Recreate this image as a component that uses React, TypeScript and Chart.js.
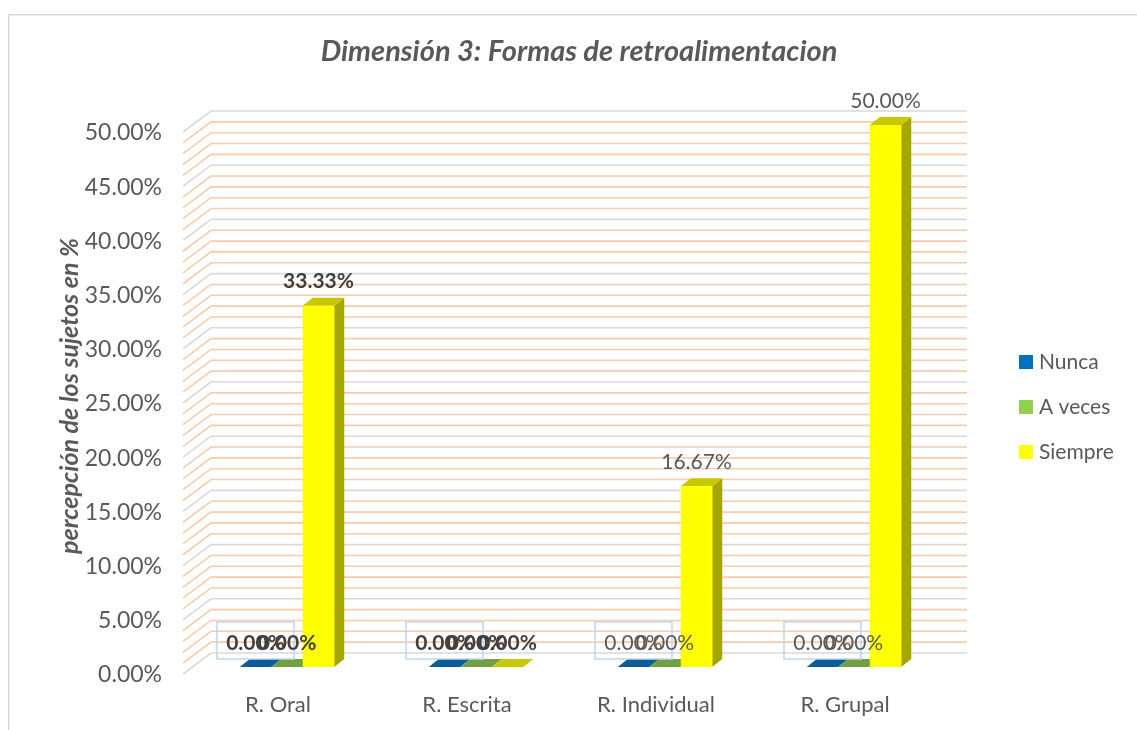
import React, { useEffect, useRef } from 'react';
import { Chart, registerables } from 'chart.js';

Chart.register(...registerables);

// ---- data ----
const categories = ['R. Oral', 'R. Escrita', 'R. Individual', 'R. Grupal'];
const seriesNames = ['Nunca', 'A veces', 'Siempre'];
const nunca = [0, 0, 0, 0];
const aVeces = [0, 0, 0, 0];
const siempre = [33.33, 0, 16.67, 50];
const yMax = 50;
const yStep = 5;
const titleText = 'Dimensión 3: Formas de retroalimentacion';
const yTitleText = 'percepción de los sujetos en %';

// ---- styles ----
const FONT = 'Lato, "Liberation Sans", sans-serif';
const FRONT_COLORS = ['#0070C0', '#92D050', '#FFFF00'];
const SIDE_COLORS = ['#004E87', '#6A9A3A', '#A6A600'];
const TOP_COLORS = ['#0B5D99', '#72A040', '#C8C800'];
const BOLD_LABEL_CATS = [true, true, false, false];
const DEPTH = { dx: 10, dy: -8 };
const BACK = { dx: 18.5, dy: -14 };
const FRONTP = { dx: -9.5, dy: 7 };

const fmt = (v: number) => v.toFixed(2) + '%';

const threeD = {
  id: 'threeD',
  beforeDraw(chart: any) {
    const ctx = chart.ctx;
    ctx.save();
    ctx.strokeStyle = '#D9D9D9';
    ctx.lineWidth = 1.5;
    ctx.beginPath();
    ctx.moveTo(8.75, 730);
    ctx.lineTo(8.75, 14.75);
    ctx.lineTo(1137, 14.75);
    ctx.stroke();
    ctx.restore();
  },
  beforeDatasetsDraw(chart: any) {
    const { ctx, chartArea } = chart;
    const y = chart.scales.y;
    ctx.save();
    ctx.lineWidth = 1.6;
    for (let v = 0; v <= yMax; v += 1) {
      const py = y.getPixelForValue(v);
      ctx.strokeStyle = v % yStep === 0 ? '#D9D9D9' : '#F8CBAD';
      ctx.beginPath();
      ctx.moveTo(chartArea.left + FRONTP.dx, py + FRONTP.dy);
      ctx.lineTo(chartArea.left + BACK.dx, py + BACK.dy);
      ctx.lineTo(chartArea.right + BACK.dx, py + BACK.dy);
      ctx.stroke();
    }
    chart.data.datasets.forEach((_ds: any, i: number) => {
      const meta = chart.getDatasetMeta(i);
      meta.data.forEach((el: any) => {
        const x0 = el.x - el.width / 2;
        const x1 = el.x + el.width / 2;
        const top = el.y;
        const base = el.base;
        // side face
        ctx.fillStyle = SIDE_COLORS[i];
        ctx.beginPath();
        ctx.moveTo(x1, top);
        ctx.lineTo(x1 + DEPTH.dx, top + DEPTH.dy);
        ctx.lineTo(x1 + DEPTH.dx, base + DEPTH.dy);
        ctx.lineTo(x1, base);
        ctx.closePath();
        ctx.fill();
        // top face
        ctx.fillStyle = TOP_COLORS[i];
        ctx.beginPath();
        ctx.moveTo(x0, top);
        ctx.lineTo(x1, top);
        ctx.lineTo(x1 + DEPTH.dx, top + DEPTH.dy);
        ctx.lineTo(x0 + DEPTH.dx, top + DEPTH.dy);
        ctx.closePath();
        ctx.fill();
      });
    });
    ctx.restore();
  },
  afterDatasetsDraw(chart: any) {
    const ctx = chart.ctx;
    ctx.save();
    // label boxes (first series, zero values)
    const meta0 = chart.getDatasetMeta(0);
    meta0.data.forEach((el: any) => {
      ctx.strokeStyle = '#BDD7EE';
      ctx.lineWidth = 1.5;
      ctx.strokeRect(el.x - 38.5, el.y - 45, 77, 37);
    });
    chart.data.datasets.forEach((ds: any, i: number) => {
      const meta = chart.getDatasetMeta(i);
      meta.data.forEach((el: any, j: number) => {
        const bold = BOLD_LABEL_CATS[j];
        ctx.font = (bold ? 'bold ' : '') + '21px ' + FONT;
        ctx.fillStyle = bold ? '#404040' : '#595959';
        ctx.textAlign = 'center';
        ctx.textBaseline = 'middle';
        ctx.fillText(fmt(ds.data[j]), el.x, el.y - 24);
      });
    });
    ctx.restore();
  },
  afterDraw(chart: any) {
    const ctx = chart.ctx;
    ctx.save();
    ctx.fillStyle = '#595959';
    ctx.textAlign = 'center';
    ctx.textBaseline = 'middle';
    ctx.font = 'italic bold 29px ' + FONT;
    ctx.fillText(titleText, 579, 52);
    // legend
    ctx.textAlign = 'left';
    ctx.font = '21px ' + FONT;
    const ys = [362, 407, 452];
    seriesNames.forEach((name, i) => {
      ctx.fillStyle = FRONT_COLORS[i];
      ctx.fillRect(1019, ys[i] - 7, 14, 14);
      ctx.fillStyle = '#595959';
      ctx.fillText(name, 1039, ys[i]);
    });
    ctx.restore();
  },
};

export default function App() {
  const ref = useRef<HTMLCanvasElement>(null);
  useEffect(() => {
    if (!ref.current) return;
    const series = [nunca, aVeces, siempre];
    const chart = new Chart(ref.current, {
      type: 'bar',
      data: {
        labels: categories,
        datasets: series.map((d, i) => ({
          label: seriesNames[i],
          data: d,
          backgroundColor: FRONT_COLORS[i],
          borderWidth: 0,
          barPercentage: 1,
          categoryPercentage: 0.5,
        })),
      },
      options: {
        responsive: false,
        animation: false,
        layout: { padding: { left: 40, right: 188.5, top: 125, bottom: 0 } },
        plugins: {
          legend: { display: false },
          title: { display: false },
          tooltip: { enabled: false },
        },
        scales: {
          x: {
            grid: { display: false, drawTicks: false },
            border: { display: false },
            ticks: {
              color: '#595959',
              font: { family: FONT, size: 22 },
              padding: 25,
              labelOffset: -9,
            },
            afterFit: (s: any) => {
              s.height = 63;
            },
          },
          y: {
            min: 0,
            max: yMax,
            grid: { display: false, drawTicks: false },
            border: { display: false },
            ticks: {
              stepSize: yStep,
              color: '#595959',
              font: { family: FONT, size: 23 },
              padding: 30.5,
              labelOffset: 8,
              callback: (v: any) => fmt(Number(v)),
            },
            title: {
              display: true,
              text: yTitleText,
              color: '#595959',
              font: { family: FONT, size: 25, weight: 'bold', style: 'italic' },
              padding: { top: 15, bottom: 4 },
            },
            afterFit: (s: any) => {
              s.width = 152.5;
            },
          },
        },
      },
      plugins: [threeD],
    });
    return () => chart.destroy();
  }, []);
  return (
    <div style={{ position: 'fixed', left: 0, top: 0, width: 1137, height: 730, background: '#fff' }}>
      <canvas ref={ref} width={1137} height={730} style={{ display: 'block' }} />
    </div>
  );
}
